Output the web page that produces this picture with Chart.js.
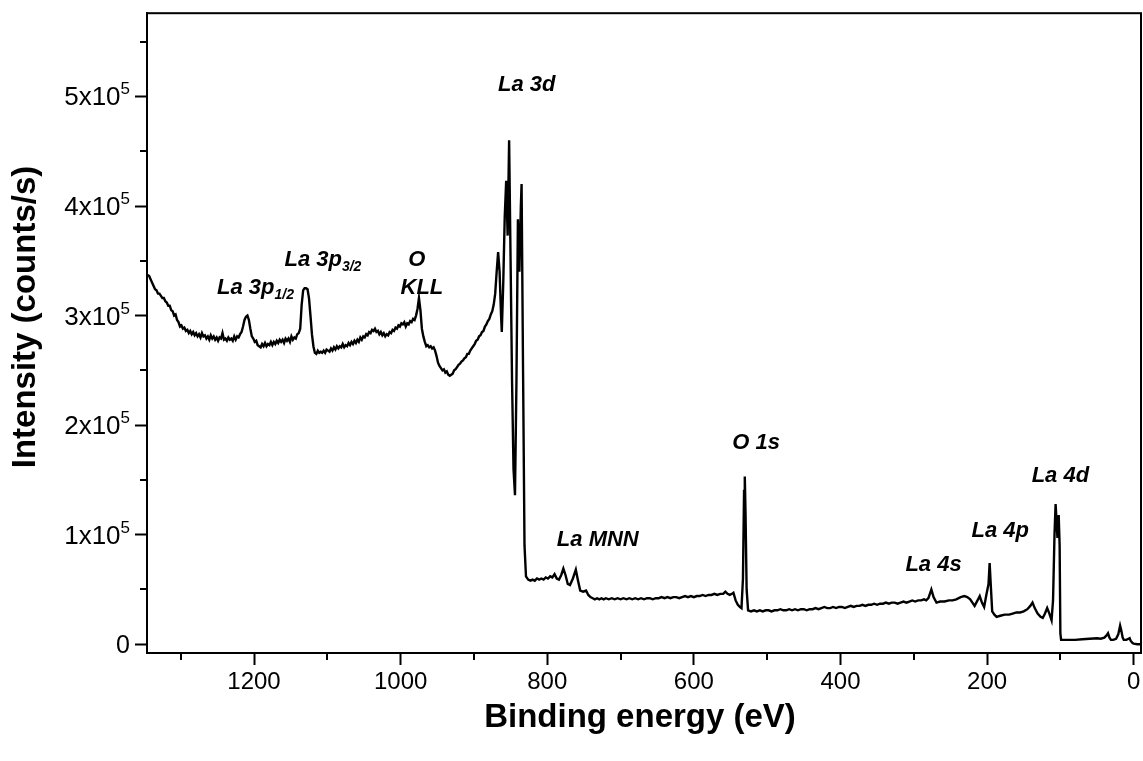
<!DOCTYPE html>
<html>
<head>
<meta charset="utf-8">
<script src="https://cdn.jsdelivr.net/npm/chart.js@4.4.1/dist/chart.umd.min.js"></script>
<style>
  body { margin: 0; background: #fff; }
  canvas { display: block; }
</style>
</head>
<body>
<canvas id="xps" width="1143" height="761"></canvas>
<script>
// survey spectrum, split in segments
// (binding energy in eV, intensity in counts/s)

// background + La 3p1/2
const beA = [
  1345, 1343, 1341, 1339, 1337, 1335, 1333, 1331, 1329, 1327,
  1325, 1323, 1321, 1319, 1317, 1315, 1313, 1311, 1309, 1307,
  1305, 1303, 1301, 1299, 1297, 1295, 1293, 1291, 1289, 1287,
  1285, 1283, 1281, 1279, 1277, 1275, 1273, 1271, 1269, 1267,
  1265, 1263, 1261, 1259, 1257, 1255, 1253, 1251, 1249, 1247,
  1245, 1243, 1241, 1239, 1237, 1235, 1233, 1231, 1229, 1227,
  1225, 1223, 1221, 1219, 1217, 1215, 1213, 1211, 1209, 1207,
  1205, 1203, 1201, 1199, 1197, 1195, 1193, 1191, 1189, 1187,
  1185, 1183, 1181, 1179, 1177, 1175, 1173, 1171, 1169, 1167,
  1165, 1163, 1161, 1159, 1157, 1155, 1153, 1151, 1149, 1147,
  1145, 1143, 1141
];
const intA = [
  337e3, 336e3, 333e3, 330e3, 327e3, 324e3, 323e3, 320e3, 320e3, 318e3,
  316e3, 316e3, 313e3, 312e3, 309e3, 309e3, 305e3, 304e3, 300e3, 301e3,
  296e3, 294e3, 290e3, 291e3, 288e3, 289e3, 286e3, 287e3, 284e3, 286e3,
  283e3, 285e3, 282e3, 284e3, 281e3, 283e3, 280e3, 284e3, 281e3, 282e3,
  279e3, 281e3, 278e3, 282e3, 279e3, 281e3, 278e3, 280e3, 277e3, 280e3,
  279e3, 284e3, 278e3, 279e3, 277e3, 280e3, 278e3, 279e3, 277e3, 281e3,
  278e3, 281e3, 280e3, 283e3, 285e3, 290e3, 296e3, 299e3, 300e3, 296e3,
  288e3, 281e3, 279e3, 276e3, 277e3, 273e3, 272e3, 271e3, 274e3, 272e3,
  275e3, 272e3, 274e3, 273e3, 276e3, 273e3, 276e3, 274e3, 277e3, 275e3,
  278e3, 276e3, 278e3, 275e3, 279e3, 277e3, 279e3, 276e3, 281e3, 278e3,
  280e3, 279e3, 283e3
];

// La 3p3/2, O KLL and rise to the La 3d satellite
const beB = [
  1139, 1137, 1135, 1133, 1131, 1129, 1127, 1125, 1123, 1121,
  1119, 1117, 1115, 1113, 1111, 1109, 1107, 1105, 1103, 1101,
  1099, 1097, 1095, 1093, 1091, 1089, 1087, 1085, 1083, 1081,
  1079, 1077, 1075, 1073, 1071, 1069, 1067, 1065, 1063, 1061,
  1059, 1057, 1055, 1053, 1051, 1049, 1047, 1045, 1043, 1041,
  1039, 1037, 1035, 1033, 1031, 1029, 1027, 1025, 1023, 1021,
  1019, 1017, 1015, 1013, 1011, 1009, 1007, 1005, 1003, 1001,
  999, 997, 995, 993, 991, 989, 987, 985, 983, 981,
  979, 977, 975, 973, 971, 969, 967, 965, 963, 961,
  959, 957, 955, 953, 951, 949, 947, 945, 943, 941,
  939, 937, 935, 933, 931, 929, 927, 925, 923, 921,
  919, 917, 915, 913, 911, 909, 907, 905, 903, 901,
  899, 897, 895, 893, 891, 889, 887, 885, 883, 881,
  879, 877, 875, 873, 871, 869, 867
];
const intB = [
  284e3, 288e3, 310e3, 323e3, 325e3, 325e3, 324e3, 316e3, 300e3, 283e3,
  272e3, 266e3, 265e3, 268e3, 266e3, 267e3, 266e3, 268e3, 266e3, 269e3,
  268e3, 267e3, 270e3, 268e3, 271e3, 269e3, 272e3, 270e3, 272e3, 271e3,
  274e3, 271e3, 273e3, 272e3, 275e3, 273e3, 276e3, 274e3, 277e3, 275e3,
  278e3, 276e3, 280e3, 278e3, 281e3, 280e3, 283e3, 282e3, 285e3, 284e3,
  287e3, 286e3, 288e3, 285e3, 286e3, 283e3, 285e3, 282e3, 284e3, 281e3,
  283e3, 282e3, 285e3, 284e3, 287e3, 286e3, 289e3, 288e3, 291e3, 290e3,
  293e3, 292e3, 294e3, 290e3, 293e3, 292e3, 295e3, 294e3, 297e3, 296e3,
  300e3, 306e3, 316e3, 305e3, 288e3, 281e3, 276e3, 272e3, 273e3, 271e3,
  272e3, 270e3, 271e3, 268e3, 263e3, 257e3, 254e3, 252e3, 250e3, 251e3,
  248e3, 249e3, 246e3, 245e3, 246e3, 247e3, 250e3, 251e3, 253e3, 255e3,
  256e3, 258e3, 259e3, 261e3, 262e3, 265e3, 265e3, 268e3, 270e3, 272e3,
  274e3, 277e3, 278e3, 281e3, 282e3, 285e3, 286e3, 290e3, 292e3, 295e3,
  297e3, 301e3, 304e3, 310e3, 320e3, 340e3, 358e3
];

// La 3d doublet
const beC = [865, 863, 862, 860, 858, 856, 854, 852, 850, 848, 846, 844, 842, 840, 838, 836, 835, 833, 831, 829, 826];
const intC = [340e3, 300e3, 285e3, 330e3, 390e3, 423e3, 373e3, 460e3, 350e3, 240e3, 160e3, 136e3, 240e3, 388e3, 340e3, 400e3, 420e3, 250e3, 90e3, 62e3, 59e3];

// La MNN and flat background
const beD = [
  823, 820, 817, 814, 811, 808, 805, 802, 799, 796,
  793, 790, 787, 784, 781, 778, 775, 772, 769, 765,
  761, 758, 755, 751, 747, 744, 741, 738, 735, 732,
  729, 726, 723, 720, 716, 712, 708, 704, 700, 696,
  692, 688, 684, 680, 676, 672, 668, 664, 660, 656,
  652, 648, 644, 640, 636, 632, 628, 624, 620, 616,
  612, 608, 604, 600, 596, 592, 588, 584, 580, 576,
  572, 568, 564, 560, 557, 554, 551, 548, 546
];
const intD = [
  58e3, 59e3, 58e3, 60e3, 59e3, 60e3, 59e3, 61e3, 60e3, 62e3,
  61e3, 64e3, 60e3, 59e3, 63e3, 69e3, 63e3, 55e3, 54e3, 60e3,
  68e3, 58e3, 49e3, 48e3, 49e3, 45e3, 43e3, 42e3, 41e3, 42e3,
  41e3, 42e3, 41e3, 42e3, 41e3, 42e3, 41e3, 42e3, 41e3, 42e3,
  41e3, 42e3, 41e3, 42e3, 41e3, 42e3, 41e3, 42e3, 42e3, 41e3,
  42e3, 42e3, 43e3, 42e3, 43e3, 42e3, 43e3, 43e3, 42e3, 43e3,
  44e3, 43e3, 44e3, 43e3, 44e3, 44e3, 45e3, 44e3, 45e3, 45e3,
  46e3, 45e3, 46e3, 46e3, 48e3, 46e3, 45e3, 46e3, 47e3
];

// O 1s
const beE = [543, 540, 537, 535, 533, 531.5, 530.5, 529.5, 528, 526];
const intE = [40e3, 36e3, 34e3, 33e3, 60e3, 140e3, 153e3, 120e3, 50e3, 31e3];

// La 4s, La 4p, La 4d and valence region
const beF = [
  522, 518, 514, 510, 506, 502, 498, 494, 490, 486,
  482, 478, 474, 470, 466, 462, 458, 454, 450, 446,
  442, 438, 434, 430, 426, 422, 418, 414, 410, 406,
  402, 398, 394, 390, 386, 382, 378, 374, 370, 366,
  362, 358, 354, 350, 346, 342, 338, 334, 330, 326,
  322, 318, 314, 310, 306, 302, 298, 294, 290, 286,
  283, 280, 278, 276, 273, 269, 264, 258, 252, 247,
  242, 236, 231, 227, 223, 220, 217, 213, 210, 207,
  204, 201, 198, 196.5, 195, 193, 190, 187, 182, 176,
  170, 165, 160, 155, 150, 145, 141, 138, 135, 131,
  127, 124, 121, 118, 115, 112, 110, 108, 106.5, 105,
  104, 103, 102.3, 101, 100, 99, 90, 80, 70, 60,
  50, 45, 40, 37, 35, 33, 31, 28, 24, 21,
  18.5, 17, 15, 13.5, 10, 7, 5.5, 4, 1.5, 0,
  -5, -10
];
const intF = [
  30e3, 31e3, 30e3, 31e3, 30e3, 31e3, 31e3, 30e3, 31e3, 31e3,
  32e3, 31e3, 31e3, 32e3, 31e3, 32e3, 31e3, 32e3, 32e3, 31e3,
  32e3, 32e3, 33e3, 32e3, 33e3, 34e3, 33e3, 33e3, 34e3, 33e3,
  34e3, 34e3, 33e3, 34e3, 35e3, 34e3, 35e3, 35e3, 36e3, 35e3,
  36e3, 36e3, 37e3, 36e3, 37e3, 37e3, 38e3, 37e3, 38e3, 38e3,
  37e3, 38e3, 39e3, 38e3, 39e3, 40e3, 39e3, 40e3, 40e3, 41e3,
  40e3, 42e3, 46e3, 50e3, 43e3, 38e3, 39e3, 39e3, 40e3, 40e3,
  41e3, 43e3, 44e3, 43e3, 41e3, 38e3, 35e3, 40e3, 44e3, 38e3,
  34e3, 45e3, 55e3, 74e3, 55e3, 30e3, 27e3, 25e3, 26e3, 27e3,
  27e3, 28e3, 29e3, 29e3, 30e3, 32e3, 35e3, 38e3, 33e3, 28e3,
  25e3, 24e3, 28e3, 33e3, 28e3, 22e3, 40e3, 100e3, 128e3, 110e3,
  97e3, 105e3, 118e3, 90e3, 10e3, 4e3, 4e3, 4e3, 4.5e3, 5e3,
  5.5e3, 5e3, 6e3, 8e3, 10e3, 6e3, 4e3, 4e3, 5e3, 9e3,
  17e3, 13e3, 6e3, 4e3, 4e3, 5e3, 5.5e3, 3e3, 1e3, 0.5e3,
  0, 0
];

// axis ticks
const xMajorTicks = [0, 200, 400, 600, 800, 1000, 1200];
const xMinorTicks = [100, 300, 500, 700, 900, 1100, 1300];
const yMajorTicks = [0, 100000, 200000, 300000, 400000, 500000];
const yMinorTicks = [50000, 150000, 250000, 350000, 450000, 550000];
const yTickMantissa = ['0', '1', '2', '3', '4', '5'];

// peak labels: text, subscript, anchor (binding energy, counts at baseline)
const peakText = ['La 3p', 'La 3p', 'O', 'KLL', 'La 3d', 'La MNN', 'O 1s', 'La 4s', 'La 4p', 'La 4d'];
const peakSub = ['1/2', '3/2', '', '', '', '', '', '', '', ''];
const peakBE = [1198, 1106, 978, 971, 828, 731, 515, 273, 182, 100];
const peakCounts = [320000, 345000, 345000, 320000, 505000, 90000, 178000, 66600, 97600, 147800];

const FONT = '"Liberation Sans", Arial, sans-serif';

const energias = [].concat(beA, beB, beC, beD, beE, beF);
const cuentas = [].concat(intA, intB, intC, intD, intE, intF);
const puntos = energias.map((e, i) => ({ x: e, y: cuentas[i] }));

// draws a text made of pieces of different size / vertical shift
function textoRico(c, piezas, cx, base, align) {
  let ancho = 0;
  piezas.forEach(p => { c.font = p.font; ancho += c.measureText(p.t).width; });
  let x = align === 'right' ? cx - ancho : cx - ancho / 2;
  c.textAlign = 'left';
  c.textBaseline = 'alphabetic';
  piezas.forEach(p => {
    c.font = p.font;
    c.fillText(p.t, x, base + p.dy);
    x += c.measureText(p.t).width;
  });
}

const marco = {
  id: 'marco',
  afterDraw(chart) {
    const c = chart.ctx;
    const a = chart.chartArea;
    const sx = chart.scales.x, sy = chart.scales.y;
    c.save();
    c.strokeStyle = '#000';
    c.lineWidth = 2;
    c.strokeRect(a.left, a.top, a.right - a.left, a.bottom - a.top);
    // minor ticks
    c.beginPath();
    xMinorTicks.forEach(v => {
      const px = Math.round(sx.getPixelForValue(v));
      c.moveTo(px, a.bottom); c.lineTo(px, a.bottom + 7);
    });
    yMinorTicks.forEach(v => {
      const py = Math.round(sy.getPixelForValue(v));
      c.moveTo(a.left, py); c.lineTo(a.left - 7, py);
    });
    c.stroke();
    c.fillStyle = '#000';
    // y tick labels with superscript
    yMajorTicks.forEach((v, i) => {
      const py = sy.getPixelForValue(v) + 9;
      const piezas = i === 0
        ? [{ t: '0', font: '25px ' + FONT, dy: 0 }]
        : [{ t: yTickMantissa[i] + 'x10', font: '26px ' + FONT, dy: 0 },
           { t: '5', font: '17px ' + FONT, dy: -11 }];
      textoRico(c, piezas, a.left - 17, py, 'right');
    });
    // axis titles
    c.font = 'bold 33px ' + FONT;
    c.textAlign = 'center';
    c.textBaseline = 'middle';
    c.fillText('Binding energy (eV)', 640, 718);
    c.save();
    c.translate(26, 317);
    c.rotate(-Math.PI / 2);
    c.fillText('Intensity (counts/s)', 0, 0);
    c.restore();
    // peak labels
    peakText.forEach((t, i) => {
      const px = sx.getPixelForValue(peakBE[i]);
      const py = sy.getPixelForValue(peakCounts[i]);
      const piezas = [{ t: t, font: 'italic bold 22px ' + FONT, dy: 0 }];
      if (peakSub[i]) piezas.push({ t: peakSub[i], font: 'italic bold 14px ' + FONT, dy: 5 });
      textoRico(c, piezas, px, py, 'center');
    });
    c.restore();
  }
};

const ctx = document.getElementById('xps');
const grafico = new Chart(ctx, {
  type: 'scatter',
  data: {
    datasets: [{
      data: puntos,
      showLine: true,
      borderColor: '#000',
      borderWidth: 2.4,
      pointRadius: 0,
      tension: 0
    }]
  },
  options: {
    responsive: false,
    animation: false,
    layout: { padding: { top: 12, right: 2, left: 0, bottom: 0 } },
    plugins: { legend: { display: false }, tooltip: { enabled: false } },
    scales: {
      x: {
        type: 'linear',
        reverse: true,
        min: -10,
        max: 1346,
        afterBuildTicks: s => { s.ticks = xMajorTicks.map(v => ({ value: v })); },
        afterFit: s => { s.height = 108; },
        grid: { drawOnChartArea: false, drawTicks: true, tickLength: 12, tickWidth: 2, tickColor: '#000' },
        border: { color: '#000', width: 2 },
        ticks: {
          autoSkip: false, maxRotation: 0, padding: 3, color: '#000',
          font: { family: FONT, size: 24 },
          callback: v => String(v)
        },
        title: { display: false }
      },
      y: {
        type: 'linear',
        min: -8000,
        max: 576000,
        afterBuildTicks: s => { s.ticks = yMajorTicks.map(v => ({ value: v })); },
        afterFit: s => { s.width = 147; },
        grid: { drawOnChartArea: false, drawTicks: true, tickLength: 12, tickWidth: 2, tickColor: '#000' },
        border: { color: '#000', width: 2 },
        ticks: { padding: 6, callback: () => '' },
        title: { display: false }
      }
    }
  },
  plugins: [marco]
});
</script>
</body>
</html>
